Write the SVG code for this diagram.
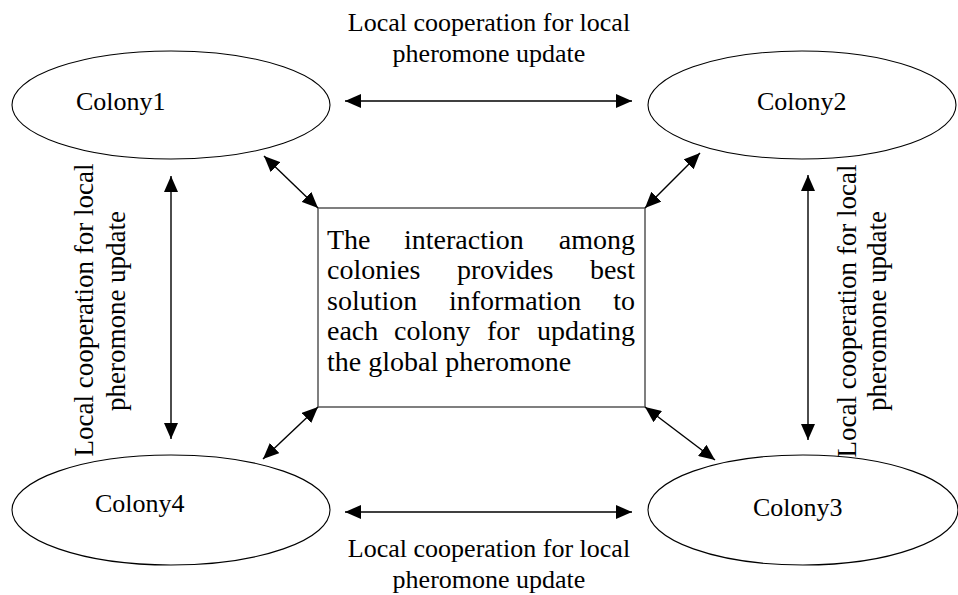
<svg xmlns="http://www.w3.org/2000/svg" width="958" height="595" viewBox="0 0 958 595">
  <style>
    .colony { fill: #fff; stroke: #000; stroke-width: 1.1; }
    .box { fill: #fff; stroke: #555; stroke-width: 1.5; }
    .t { font-family: "Liberation Serif", "Times New Roman", serif; font-size: 26px; fill: #000; }
    .v { font-size: 27px; }
    .bt { font-family: "Liberation Serif", "Times New Roman", serif; font-size: 28px; fill: #000; }
    .link { stroke: #000; stroke-width: 1.4; fill: none; marker-start: url(#head); marker-end: url(#head); }
  </style>
  <defs>
    <marker id="head" viewBox="0 0 16 14" refX="16" refY="7" markerWidth="16" markerHeight="14" markerUnits="userSpaceOnUse" orient="auto-start-reverse">
      <path d="M0,0 L16,7 L0,14 Z" fill="#000"/>
    </marker>
  </defs>
  <rect width="958" height="595" fill="#fff"/>

  <g id="colony1">
    <ellipse class="colony" cx="171" cy="105" rx="159" ry="54"/>
    <text class="t" x="76" y="110">Colony1</text>
  </g>
  <g id="colony2">
    <ellipse class="colony" cx="802" cy="105" rx="154" ry="54"/>
    <text class="t" x="757" y="110">Colony2</text>
  </g>
  <g id="colony3">
    <ellipse class="colony" cx="803" cy="510" rx="155" ry="55"/>
    <text class="t" x="753" y="516">Colony3</text>
  </g>
  <g id="colony4">
    <ellipse class="colony" cx="171" cy="510" rx="159" ry="55"/>
    <text class="t" x="95" y="512">Colony4</text>
  </g>

  <g id="interaction">
    <rect class="box" x="318" y="208" width="327" height="199"/>
    <text class="bt" y="249"><tspan x="327">The</tspan><tspan x="404">interaction</tspan><tspan x="635" text-anchor="end">among</tspan></text>
    <text class="bt" y="279"><tspan x="327">colonies</tspan><tspan x="457">provides</tspan><tspan x="635" text-anchor="end">best</tspan></text>
    <text class="bt" y="310"><tspan x="327">solution</tspan><tspan x="449">information</tspan><tspan x="635" text-anchor="end">to</tspan></text>
    <text class="bt" y="340"><tspan x="327">each</tspan><tspan x="394">colony</tspan><tspan x="487">for</tspan><tspan x="635" text-anchor="end">updating</tspan></text>
    <text class="bt" x="327" y="371">the global pheromone</text>
  </g>

  <g id="labels" class="t" text-anchor="middle">
    <text x="489" y="31">Local cooperation for local</text>
    <text x="489" y="62">pheromone update</text>
    <text x="489" y="557">Local cooperation for local</text>
    <text x="489" y="588">pheromone update</text>
    <text class="v" transform="translate(93,310) rotate(-90)">Local cooperation for local</text>
    <text class="v" transform="translate(125,311) rotate(-90)">pheromone update</text>
    <text class="v" transform="translate(856,311) rotate(-90)">Local cooperation for local</text>
    <text class="v" transform="translate(886,311) rotate(-90)">pheromone update</text>
  </g>

  <g id="connectors">
    <line class="link" x1="345" y1="101" x2="632" y2="101"/>
    <line class="link" x1="345" y1="512" x2="632" y2="512"/>
    <line class="link" x1="171" y1="176" x2="171" y2="439"/>
    <line class="link" x1="808" y1="175" x2="808" y2="440"/>
    <line class="link" x1="264" y1="156" x2="318" y2="208"/>
    <line class="link" x1="700" y1="153" x2="645" y2="208"/>
    <line class="link" x1="263" y1="459" x2="318" y2="407"/>
    <line class="link" x1="715" y1="460" x2="645" y2="407"/>
  </g>
</svg>
